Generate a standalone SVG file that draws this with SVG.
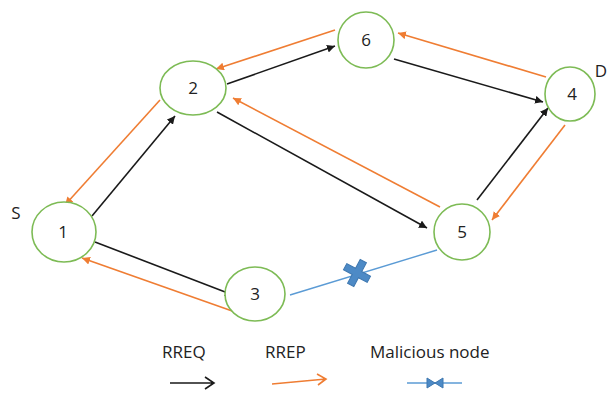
<svg xmlns="http://www.w3.org/2000/svg" width="608" height="393" viewBox="0 0 608 393">
<style>
.node ellipse{fill:#fff;stroke:#7dbb55;stroke-width:1.6}
.node text,.lbl{font-family:"Open Sans","Liberation Sans",sans-serif;font-size:17px;fill:#222;text-anchor:middle}
.req{stroke:#1a1a1a;stroke-width:1.6;fill:none}
.rep{stroke:#ef7d33;stroke-width:1.6;fill:none}
.leg{font-family:"Open Sans","Liberation Sans",sans-serif;font-size:17px;fill:#222}
</style>
<defs>
<marker id="ab" viewBox="0 0 10 10" refX="10" refY="5" markerWidth="8" markerHeight="8" markerUnits="userSpaceOnUse" orient="auto"><path d="M0,0 L10,5 L0,10 z" fill="#1a1a1a"/></marker>
<marker id="ao" viewBox="0 0 10 10" refX="10" refY="5" markerWidth="8" markerHeight="8" markerUnits="userSpaceOnUse" orient="auto"><path d="M0,0 L10,5 L0,10 z" fill="#ef7d33"/></marker>
</defs>
<rect width="608" height="393" fill="#fff"/>
<g id="connectors">
<line class="req" x1="92" y1="216" x2="175" y2="116" marker-end="url(#ab)"/>
<line class="req" x1="95" y1="242" x2="233" y2="295" marker-end="url(#ab)"/>
<line class="req" x1="227" y1="84" x2="335" y2="46" marker-end="url(#ab)"/>
<line class="req" x1="217" y1="112" x2="427" y2="228" marker-end="url(#ab)"/>
<line class="req" x1="394" y1="59" x2="543" y2="102" marker-end="url(#ab)"/>
<line class="req" x1="477" y1="200" x2="548" y2="108" marker-end="url(#ab)"/>
<line class="rep" x1="160" y1="100" x2="65" y2="205" marker-end="url(#ao)"/>
<line class="rep" x1="235" y1="312" x2="82" y2="258" marker-end="url(#ao)"/>
<line class="rep" x1="335" y1="30" x2="216" y2="69" marker-end="url(#ao)"/>
<line class="rep" x1="546" y1="77" x2="398" y2="33" marker-end="url(#ao)"/>
<line class="rep" x1="440" y1="207" x2="233" y2="98" marker-end="url(#ao)"/>
<line class="rep" x1="565" y1="125" x2="492" y2="220" marker-end="url(#ao)"/>
<line x1="290" y1="295" x2="437" y2="250" stroke="#5b9bd5" stroke-width="1.4"/>
<g transform="translate(357,273) rotate(-17)">
<path d="M-12,-7 L-7,-12 L0,-5 L7,-12 L12,-7 L5,0 L12,7 L7,12 L0,5 L-7,12 L-12,7 L-5,0 z" fill="#4d8ac6" stroke="#3f78b0" stroke-width="1"/>
</g>
</g>
<g id="node1" class="node"><ellipse cx="64" cy="232" rx="32" ry="30"/><text x="63" y="238">1</text></g>
<g id="node2" class="node"><ellipse cx="193" cy="88" rx="33" ry="27"/><text x="193" y="94">2</text></g>
<g id="node6" class="node"><ellipse cx="366" cy="40" rx="28" ry="28"/><text x="366" y="46">6</text></g>
<g id="node4" class="node"><ellipse cx="570" cy="94" rx="25" ry="27"/><text x="572" y="100">4</text></g>
<g id="node3" class="node"><ellipse cx="255" cy="294" rx="30" ry="27"/><text x="255" y="300">3</text></g>
<g id="node5" class="node"><ellipse cx="462" cy="232" rx="28" ry="28"/><text x="462" y="238">5</text></g>
<text class="lbl" x="16" y="219">S</text>
<text class="lbl" x="607" y="77" style="text-anchor:end">D</text>
<g id="legend">
<text class="leg" x="162" y="358">RREQ</text>
<text class="leg" x="265" y="358">RREP</text>
<text class="leg" x="370" y="358">Malicious node</text>
<path d="M170,383 L214,383 M205,377 L214,383 L205,389" stroke="#1a1a1a" stroke-width="1.6" fill="none"/>
<path d="M272,384 L326,379 M317,374 L326,379 L318,385" stroke="#ef7d33" stroke-width="1.6" fill="none"/>
<line x1="407" y1="383" x2="462" y2="383" stroke="#5b9bd5" stroke-width="1.6"/>
<path d="M427,378 L435,383 L427,388 z M443,378 L435,383 L443,388 z" fill="#4d8ac6" stroke="#3f78b0" stroke-width="1"/>
</g>
</svg>
